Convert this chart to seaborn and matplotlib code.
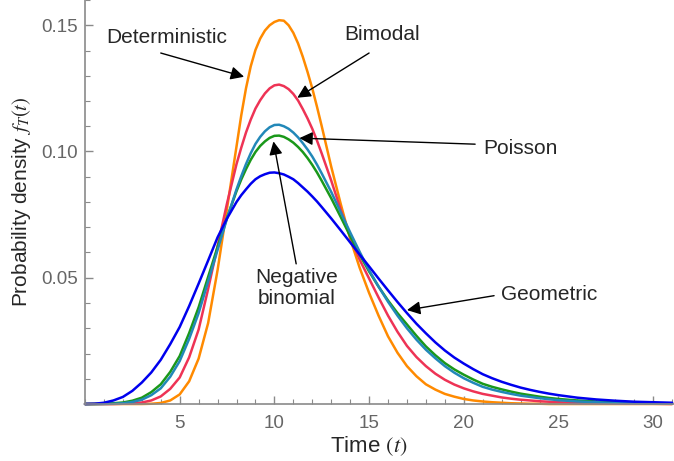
import pandas as pd
import matplotlib
matplotlib.use('Agg')
import matplotlib.pyplot as plt
import seaborn as sns
from matplotlib.ticker import MultipleLocator

# time grid: finer around the peaks
t = [0, 0.5, 1, 1.5, 2, 2.5, 3, 3.5, 4, 4.5, 5, 5.5, 6, 6.5, 7, 7.5,
     8, 8.25, 8.5, 8.75, 9, 9.25, 9.5, 9.75, 10, 10.25, 10.5, 10.75,
     11, 11.25, 11.5, 11.75, 12, 12.25, 12.5,
     13, 13.5, 14, 14.5, 15, 15.5, 16, 16.5, 17, 17.5, 18, 18.5, 19, 19.5,
     20, 20.5, 21, 21.5, 22, 22.5, 23, 23.5, 24, 24.5, 25,
     26, 27, 28, 29, 30, 31]

deterministic = [0, 0, 0, 0, 0, 0, 0, 0.0001, 0.0004, 0.0014, 0.0038, 0.0090, 0.0180, 0.0320, 0.0530, 0.0775,
                 0.1020, 0.1143, 0.1250, 0.1337, 0.1402, 0.1447, 0.1479, 0.1500, 0.1513, 0.1520, 0.1518, 0.1500,
                 0.1470, 0.1428, 0.1375, 0.1315, 0.1250, 0.1177, 0.1100,
                 0.0940, 0.0793, 0.0655, 0.0540, 0.0440, 0.0350, 0.0268, 0.0203, 0.0150, 0.0110, 0.0078, 0.0057, 0.0040, 0.0029,
                 0.0020, 0.0014, 0.0010, 0.0007, 0.0005, 0.0003, 0.0002, 0.0001, 0.0001, 0, 0,
                 0, 0, 0, 0, 0, 0]

bimodal = [0, 0, 0, 0, 0.0001, 0.0003, 0.0006, 0.0014, 0.0030, 0.0060, 0.0105, 0.0185, 0.0295, 0.0455, 0.0625, 0.0795,
           0.0950, 0.1015, 0.1075, 0.1126, 0.1170, 0.1203, 0.1230, 0.1250, 0.1262, 0.1265, 0.1259, 0.1247,
           0.1228, 0.1202, 0.1168, 0.1131, 0.1090, 0.1043, 0.0992,
           0.0885, 0.0770, 0.0662, 0.0572, 0.0497, 0.0422, 0.0350, 0.0286, 0.0230, 0.0186, 0.0150, 0.0120, 0.0096, 0.0077,
           0.0062, 0.0050, 0.0040, 0.0033, 0.0026, 0.0021, 0.0017, 0.0014, 0.0011, 0.0009, 0.0007,
           0.0004, 0.0003, 0.0002, 0.0001, 0.0001, 0]

poisson = [0, 0, 0, 0.0001, 0.0003, 0.0008, 0.0017, 0.0035, 0.0062, 0.0108, 0.0170, 0.0258, 0.0360, 0.0485, 0.0610, 0.0735,
           0.0850, 0.0902, 0.0950, 0.0993, 0.1030, 0.1058, 0.1080, 0.1096, 0.1105, 0.1106, 0.1100, 0.1090,
           0.1075, 0.1056, 0.1033, 0.1008, 0.0980, 0.0948, 0.0913,
           0.0840, 0.0760, 0.0680, 0.0603, 0.0530, 0.0465, 0.0405, 0.0350, 0.0300, 0.0255, 0.0215, 0.0181, 0.0150, 0.0124,
           0.0102, 0.0084, 0.0068, 0.0057, 0.0048, 0.0040, 0.0033, 0.0028, 0.0023, 0.0019, 0.0015,
           0.0010, 0.0007, 0.0004, 0.0003, 0.0002, 0.0001]

neg_binomial = [0, 0, 0.0001, 0.0003, 0.0006, 0.0013, 0.0025, 0.0047, 0.0078, 0.0127, 0.0190, 0.0281, 0.0383, 0.0503, 0.0622, 0.0738,
                0.0843, 0.0889, 0.0930, 0.0967, 0.0998, 0.1022, 0.1040, 0.1054, 0.1062, 0.1063, 0.1058, 0.1048,
                0.1035, 0.1018, 0.0998, 0.0974, 0.0947, 0.0917, 0.0884,
                0.0815, 0.0741, 0.0665, 0.0592, 0.0525, 0.0465, 0.0410, 0.0360, 0.0315, 0.0270, 0.0228, 0.0193, 0.0162, 0.0137,
                0.0116, 0.0097, 0.0080, 0.0068, 0.0058, 0.0049, 0.0041, 0.0035, 0.0029, 0.0024, 0.0020,
                0.0014, 0.0010, 0.0007, 0.0005, 0.0003, 0.0002]

geometric = [0, 0.0001, 0.0005, 0.0014, 0.0028, 0.0052, 0.0085, 0.0125, 0.0175, 0.0237, 0.0305, 0.0388, 0.0477, 0.0568, 0.0660, 0.0735,
             0.0800, 0.0827, 0.0850, 0.0872, 0.0890, 0.0902, 0.0910, 0.0916, 0.0917, 0.0914, 0.0909, 0.0900,
             0.0890, 0.0875, 0.0858, 0.0841, 0.0822, 0.0802, 0.0780,
             0.0735, 0.0688, 0.0640, 0.0592, 0.0545, 0.0497, 0.0450, 0.0404, 0.0360, 0.0318, 0.0280, 0.0244, 0.0212, 0.0184,
             0.0160, 0.0138, 0.0118, 0.0102, 0.0088, 0.0076, 0.0065, 0.0056, 0.0048, 0.0041, 0.0035,
             0.0025, 0.0018, 0.0013, 0.0009, 0.0007, 0.0005]

models = ['Deterministic', 'Bimodal', 'Negative binomial', 'Poisson', 'Geometric']
colors = {'Deterministic': '#FF8A00', 'Bimodal': '#EE3355',
          'Negative binomial': '#1A981A', 'Poisson': '#2288B8',
          'Geometric': '#0000EE'}

df = pd.DataFrame({'t': t, 'Deterministic': deterministic, 'Bimodal': bimodal,
                   'Negative binomial': neg_binomial, 'Poisson': poisson,
                   'Geometric': geometric})
df = df.melt(id_vars='t', var_name='model', value_name='density')

sns.set_theme(style='ticks')
plt.rcParams['font.family'] = ['Liberation Sans', 'DejaVu Sans']
plt.rcParams['mathtext.fontset'] = 'stix'

fig = plt.figure(figsize=(6.74, 4.61), dpi=100)
ax = fig.add_axes([85 / 674, 57 / 461, 589 / 674, 404 / 461])

sns.lineplot(data=df, x='t', y='density', hue='model', hue_order=models,
             palette=colors, linewidth=1.8, legend=False, ax=ax)
for line in ax.lines:
    line.set_clip_on(False)
    line.set_solid_joinstyle('round')

ax.set_xlim(0, 31.1)
ax.set_ylim(0, 0.16)

# mathematica-like axes
grey = '#8a8a8a'
for side in ['top', 'right']:
    ax.spines[side].set_visible(False)
for side in ['left', 'bottom']:
    ax.spines[side].set_color(grey)
    ax.spines[side].set_linewidth(1.2)

ax.set_xticks([5, 10, 15, 20, 25, 30])
ax.xaxis.set_minor_locator(MultipleLocator(1))
ax.set_yticks([0.05, 0.10, 0.15])
ax.set_yticklabels(['0.05', '0.10', '0.15'])
ax.yaxis.set_minor_locator(MultipleLocator(0.01))
ax.tick_params(which='both', direction='in', color=grey, labelcolor='#666666',
               labelsize=13.5)
ax.tick_params(which='major', length=6, width=1)
ax.tick_params(which='minor', length=3.5, width=0.8)
ax.tick_params(axis='x', pad=8)
ax.tick_params(axis='y', pad=5)

ax.set_xlabel(r'Time $(t)$', fontsize=16)
ax.xaxis.set_label_coords(0.482, -0.075)
ax.set_ylabel(r'Probability density $f_T(t)$', fontsize=15, labelpad=6)

arrow = dict(arrowstyle='-|>', color='black', lw=1, mutation_scale=20,
             shrinkA=0, shrinkB=0)
fs = 15
ax.annotate('', xy=(8.40, 0.1296), xytext=(4.0, 0.1390), arrowprops=arrow)
ax.text(4.3, 0.1451, 'Deterministic', fontsize=fs, ha='center', va='center')
ax.annotate('', xy=(11.21, 0.1213), xytext=(15.0, 0.1390), arrowprops=arrow)
ax.text(15.7, 0.1463, 'Bimodal', fontsize=fs, ha='center', va='center')
ax.annotate('', xy=(11.32, 0.1053), xytext=(20.6, 0.1029), arrowprops=arrow)
ax.text(23.0, 0.1013, 'Poisson', fontsize=fs, ha='center', va='center')
ax.annotate('', xy=(9.95, 0.1040), xytext=(11.15, 0.0555), arrowprops=arrow)
ax.text(11.15, 0.0459, 'Negative\nbinomial', fontsize=fs, ha='center',
        va='center', linespacing=1.1)
ax.annotate('', xy=(17.0, 0.0372), xytext=(21.6, 0.0429), arrowprops=arrow)
ax.text(24.5, 0.0435, 'Geometric', fontsize=fs, ha='center', va='center')

fig.savefig('out.png', dpi=100)
